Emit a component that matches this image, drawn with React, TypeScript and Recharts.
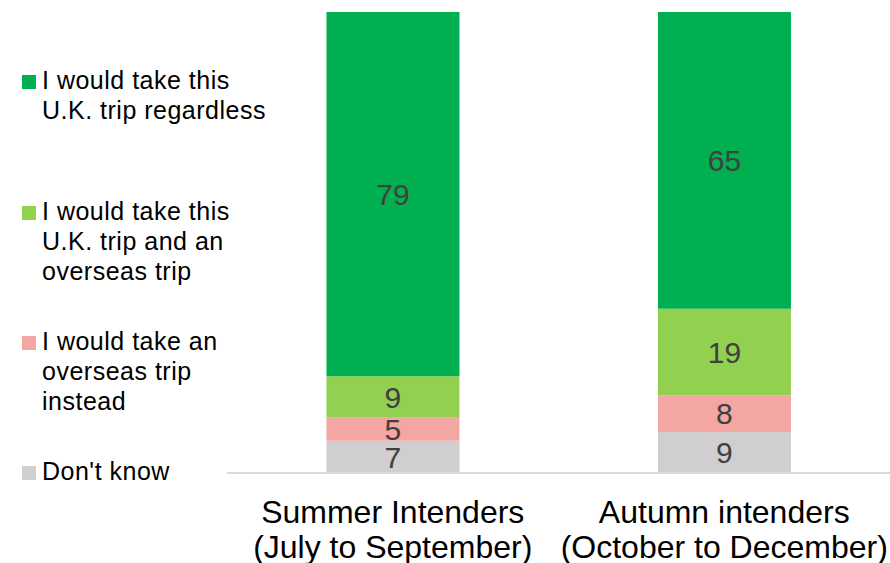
import React from 'react';
import { BarChart, Bar, XAxis, YAxis, LabelList, Legend } from 'recharts';

const categories = ['Summer Intenders|(July to September)', 'Autumn intenders|(October to December)'];
const regardless = [79, 65];
const ukAndOverseas = [9, 19];
const overseasInstead = [5, 8];
const dontKnow = [7, 9];

const seriesNames = [
  'I would take this|U.K. trip regardless',
  'I would take this|U.K. trip and an|overseas trip',
  'I would take an|overseas trip|instead',
  "Don't know",
];
const seriesKeys = ['dontKnow', 'overseasInstead', 'ukAndOverseas', 'regardless'];
const colors: Record<string, string> = {
  regardless: '#00B050',
  ukAndOverseas: '#92D050',
  overseasInstead: '#F4A6A3',
  dontKnow: '#D0CECE',
};
const legendKeys = ['regardless', 'ukAndOverseas', 'overseasInstead', 'dontKnow'];

const data = categories.map((c, i) => ({
  name: c,
  regardless: regardless[i],
  ukAndOverseas: ukAndOverseas[i],
  overseasInstead: overseasInstead[i],
  dontKnow: dontKnow[i],
}));

const FONT = '"Liberation Sans", Arial, sans-serif';

const CategoryTick = (props: any) => {
  const { x, y, payload } = props;
  const lines = String(payload.value).split('|');
  return (
    <text x={x} y={y} textAnchor="middle" fontFamily={FONT} fontSize={32} fill="#000">
      {lines.map((l, i) => (
        <tspan key={i} x={x} dy={i === 0 ? 42 : 35}>{l}</tspan>
      ))}
    </text>
  );
};

const legendTops = [65, 196, 326, 456];

const renderLegend = () => (
  <div style={{ position: 'relative', width: 227, height: 563, fontFamily: FONT, fontSize: 25, letterSpacing: '0.5px', lineHeight: '30px', color: '#000' }}>
    {legendKeys.map((k, i) => (
      <div key={k} style={{ position: 'absolute', left: 22, top: legendTops[i], display: 'flex' }}>
        <div style={{ width: 14, height: 14, background: colors[k], marginTop: 10, marginRight: 6, flexShrink: 0 }} />
        <div style={{ whiteSpace: 'nowrap' }}>
          {seriesNames[i].split('|').map((l, j) => (
            <div key={j}>{l}</div>
          ))}
        </div>
      </div>
    ))}
  </div>
);

export default function App() {
  return (
    <div style={{ position: 'absolute', left: 0, top: 0, width: 890, height: 563, background: '#fff' }}>
      <BarChart
        width={890}
        height={563}
        data={data}
        stackOffset="expand"
        margin={{ top: 12, right: 0, left: 0, bottom: 0 }}
        barCategoryGap="30%"
      >
        <Legend
          layout="vertical"
          align="left"
          verticalAlign="top"
          content={renderLegend}
          wrapperStyle={{ left: 0, top: 0, width: 227, height: 563 }}
        />
        <XAxis
          dataKey="name"
          tick={<CategoryTick />}
          tickLine={false}
          axisLine={{ stroke: '#D9D9D9', strokeWidth: 2 }}
          height={90}
          interval={0}
        />
        <YAxis hide domain={[0, 1]} />
        {seriesKeys.map((k) => (
          <Bar key={k} dataKey={k} stackId="a" fill={colors[k]} isAnimationActive={false}>
            <LabelList
              dataKey={k}
              position="center"
              fill="#404040"
              fontSize={30}
              fontFamily={FONT}
            />
          </Bar>
        ))}
      </BarChart>
    </div>
  );
}
